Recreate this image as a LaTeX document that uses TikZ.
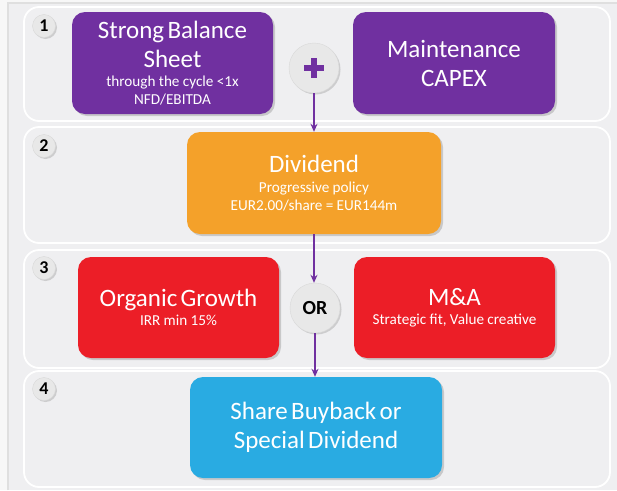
\documentclass[tikz,border=0pt]{standalone}
\usepackage{fontspec}
\setmainfont{Carlito}
\usetikzlibrary{calc,shadows,arrows.meta}
\definecolor{bgGrey}{HTML}{EFEFF1}
\definecolor{capPurple}{HTML}{7030A0}
\definecolor{divOrange}{HTML}{F4A12A}
\definecolor{growRed}{HTML}{EC1E27}
\definecolor{buySky}{HTML}{29ABE2}
\newcommand{\bigtxt}{\fontsize{25}{29}\selectfont}
\newcommand{\smalltxt}{\fontsize{15.2}{18}\selectfont}

\begin{document}
\begin{tikzpicture}[x=1pt,y=-1pt]
       \tikzstyle{panel} = [draw=white, line width=1.8pt, rounded corners=15pt];
       \tikzstyle{block} = [rectangle, rounded corners=13pt, text=white, align=center, inner sep=0pt,
                            drop shadow={shadow xshift=2pt, shadow yshift=-2pt, opacity=0.35}];
       \tikzstyle{ball} = [circle, fill=gray!18, draw=gray!30, inner sep=0pt,
                           drop shadow={shadow xshift=1.5pt, shadow yshift=-1.5pt, opacity=0.3}];
       \tikzstyle{badge} = [ball, minimum size=23pt, font=\fontsize{18}{18}\selectfont\bfseries];
       \tikzstyle{link} = [-{Stealth[length=8pt,width=7pt]}, draw=capPurple, line width=1.8pt];

       % background and panels
       \useasboundingbox (0,0) rectangle (617,490);
       \fill[gray!6] (0,0) rectangle (617,490);
       \fill[bgGrey] (8,3) rectangle (617,490);
       \draw[gray!25, line width=1.5pt] (8,490) -- (8,3) -- (617,3);
       \draw[panel] (24,7) rectangle (610,121);
       \draw[panel] (24,127) rectangle (610,243);
       \draw[panel] (24,250) rectangle (610,368);
       \draw[panel] (24,371) rectangle (610,487);

       % step numbers
       \node[badge] (one) at (44,26) {1};
       \node[badge] (two) at (44,146) {2};
       \node[badge] (three) at (44,268) {3};
       \node[badge] (four) at (44,389) {4};

       % boxes
       \node[block, fill=capPurple, text width=201pt, minimum height=102pt] (balance) at (172.5,63)
            {{\bigtxt Strong Balance\\ Sheet\par}\vspace{1pt}{\smalltxt through the cycle <1x\\ NFD/EBITDA\par}};
       \node[block, fill=capPurple, text width=202pt, minimum height=102pt] (capex) at (454,63)
            {{\bigtxt Maintenance\\ CAPEX\par}};
       \node[ball, minimum size=50pt] (plus) at (314,68) {};
       \node[block, fill=divOrange, text width=254pt, minimum height=102pt] (dividend) at (314,183)
            {{\bigtxt Dividend\par}\vspace{2pt}{\smalltxt Progressive policy\\ EUR2.00/share = EUR144m\par}};
       \node[block, fill=growRed, text width=201pt, minimum height=101pt] (organic) at (178.5,307.5)
            {{\bigtxt Organic Growth\par}\vspace{1pt}{\smalltxt IRR min 15\%\par}};
       \node[ball, minimum size=50pt, font=\fontsize{20}{20}\selectfont\bfseries] (or) at (315,308) {OR};
       \node[block, fill=growRed, text width=201pt, minimum height=101pt] (mna) at (454.5,307.5)
            {{\bigtxt M\&A\par}\vspace{1pt}{\smalltxt Strategic fit, Value creative\par}};
       \node[block, fill=buySky, text width=252pt, minimum height=101pt] (buyback) at (316,427.5)
            {{\bigtxt Share Buyback or\\ Special Dividend\par}};

       % plus sign
       \draw[capPurple, line width=6pt] ($(plus)+(-10,0)$) -- ($(plus)+(10,0)$);
       \draw[capPurple, line width=6pt] ($(plus)+(0,-10)$) -- ($(plus)+(0,10)$);

       % flow
       \draw[link] (plus.south) -- (dividend.north);
       \draw[link] (dividend.south) -- (dividend.south |- or.north);
       \draw[link] (or.south) -- (or.south |- buyback.north);
     \end{tikzpicture}
\end{document}
